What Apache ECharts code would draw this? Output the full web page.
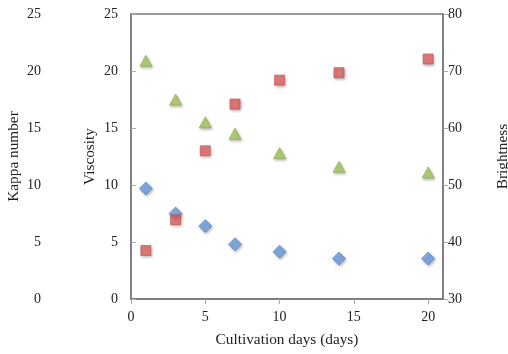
<!DOCTYPE html>
<html><head><meta charset="utf-8">
<script src="https://cdn.jsdelivr.net/npm/echarts@6/dist/echarts.min.js"></script>
<style>html,body{margin:0;padding:0;background:#fff}#c{width:508px;height:354px}</style>
</head><body><div id="c"></div>
<script>
const days = [1, 3, 5, 7, 10, 14, 20];
const kappa = [9.7, 7.5, 6.4, 4.8, 4.15, 3.55, 3.55];
const viscosity = [20.9, 17.5, 15.5, 14.5, 12.8, 11.6, 11.1];
const brightness = [38.5, 43.9, 56.0, 64.2, 68.4, 69.7, 72.1];
const xName = 'Cultivation days (days)';
const kappaName = 'Kappa number';
const viscName = 'Viscosity';
const brightName = 'Brightness';

const font = 'Liberation Serif';
const txt = {fontFamily: font, fontSize: 14, color: '#222'};
const ntxt = {fontFamily: font, fontSize: 15.3, color: '#222'};
function pairs(ys){ return days.map((d,i)=>[d, ys[i]]); }
const shadow = {shadowBlur: 3, shadowColor: 'rgba(0,0,0,0.35)', shadowOffsetX: 1, shadowOffsetY: 1.5};

const chart = echarts.init(document.getElementById('c'), null, {renderer: 'canvas'});
chart.setOption({
  animation: false,
  grid: {left: 131, right: 65, top: 14, bottom: 55, containLabel: false, outerBoundsMode: 'none',
         show: true, borderColor: '#777', borderWidth: 1.5, backgroundColor: 'transparent'},
  xAxis: {
    type: 'value', min: 0, max: 21, interval: 5,
    name: xName, nameLocation: 'middle', nameGap: 33, nameMoveOverlap: false, nameTextStyle: ntxt,
    axisLine: {show: true, lineStyle: {color: '#777', width: 1.5}},
    axisTick: {show: true, inside: false, length: 5, lineStyle: {color: '#aaa'}},
    axisLabel: Object.assign({margin: 11, showMaxLabel: false}, txt),
    splitLine: {show: false}
  },
  yAxis: [
    {
      type: 'value', min: 0, max: 25, interval: 5, position: 'left', offset: 77,
      name: kappaName, nameLocation: 'middle', nameGap: 33, nameMoveOverlap: false, nameRotate: 90, nameTextStyle: ntxt,
      axisLine: {show: true, lineStyle: {color: '#aaa', width: 1}},
      axisTick: {show: true, inside: true, length: 5, lineStyle: {color: '#aaa'}},
      axisLabel: Object.assign({margin: 13}, txt),
      splitLine: {show: false}
    },
    {
      type: 'value', min: 0, max: 25, interval: 5, position: 'left', offset: 0,
      name: viscName, nameLocation: 'middle', nameGap: 34, nameMoveOverlap: false, nameRotate: 90, nameTextStyle: ntxt,
      axisLine: {show: true, lineStyle: {color: '#777', width: 1.5}},
      axisTick: {show: true, inside: true, length: 5, lineStyle: {color: '#aaa'}},
      axisLabel: Object.assign({margin: 13}, txt),
      splitLine: {show: false}
    },
    {
      type: 'value', min: 30, max: 80, interval: 10, position: 'right', offset: 0,
      name: brightName, nameLocation: 'middle', nameGap: 52, nameMoveOverlap: false, nameRotate: 90, nameTextStyle: ntxt,
      axisLine: {show: true, lineStyle: {color: '#777', width: 1.5}},
      axisTick: {show: true, inside: false, length: 5, lineStyle: {color: '#aaa'}},
      axisLabel: Object.assign({margin: 5}, txt),
      splitLine: {show: false}
    }
  ],
  series: [
    {type: 'scatter', name: kappaName, yAxisIndex: 0, data: pairs(kappa), symbol: 'diamond', symbolSize: [13, 13],
     itemStyle: Object.assign({color: '#6d9fe0', borderColor: '#4a7cc0', borderWidth: 0.8}, shadow)},
    {type: 'scatter', name: brightName, yAxisIndex: 2, data: pairs(brightness), symbol: 'rect', symbolSize: [10, 10],
     itemStyle: Object.assign({color: '#e46464', borderColor: '#c04848', borderWidth: 0.8}, shadow)},
    {type: 'scatter', name: viscName, yAxisIndex: 1, data: pairs(viscosity), symbol: 'triangle', symbolSize: [12, 11],
     itemStyle: Object.assign({color: '#abcd62', borderColor: '#88aa44', borderWidth: 0.8}, shadow)}
  ]
});
</script></body></html>
